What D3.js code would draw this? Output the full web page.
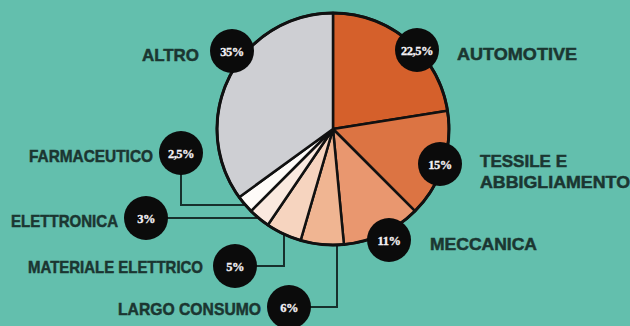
<!DOCTYPE html>
<html>
<head>
<meta charset="utf-8">
<script src="https://cdn.jsdelivr.net/npm/d3@7"></script>
<style>
  html, body { margin: 0; padding: 0; background: #63bfad; }
  svg { display: block; }
</style>
</head>
<body>
<svg id="chart" width="630" height="326"></svg>
<script>
// Sector shares (percent), clockwise from 12 o'clock
const categories = ["AUTOMOTIVE", "TESSILE E\nABBIGLIAMENTO", "MECCANICA", "LARGO CONSUMO",
                    "MATERIALE ELETTRICO", "ELETTRONICA", "FARMACEUTICO", "ALTRO"];
const shares = [22.5, 15, 11, 6, 5, 3, 2.5, 35];
const sliceColors = ["#d5602b", "#dc7443", "#e9976f", "#f0b592", "#f6d4bf", "#fae9df", "#fefbf8", "#cecfd3"];

// Callout layout: badge centre, label anchor point, alignment, set width of each label line,
// optional elbow for the leader line and the direction it takes to reach the rim
const callouts = [
  { badge: [417, 50],  label: [457, 60],  anchor: "start", widths: [120] },
  { badge: [440, 164], label: [480, 167], anchor: "start", widths: [87, 150] },
  { badge: [389, 240], label: [430, 250], anchor: "start", widths: [107] },
  { badge: [289, 307], label: [261, 315], anchor: "end", widths: [143], elbow: [337, 307], toRim: "v" },
  { badge: [235, 266], label: [203, 273], anchor: "end", widths: [175], elbow: [284, 266], toRim: "v" },
  { badge: [146, 218], label: [118, 227], anchor: "end", widths: [107], elbow: [146, 218], toRim: "h" },
  { badge: [181, 153], label: [153, 162], anchor: "end", widths: [124], elbow: [181, 205], toRim: "h" },
  { badge: [232, 51],  label: [199, 61],  anchor: "end", widths: [57] }
];

const W = 630, H = 326;
const cx = 333, cy = 129, R = 116, badgeR = 22;

const it = d3.formatLocale({ decimal: ",", thousands: ".", grouping: [3], currency: ["", "€"] });
const fmt = v => it.format("~")(v) + "%";

const svg = d3.select("#chart");

const data = categories.map((c, i) => ({ name: c, value: shares[i], color: sliceColors[i], co: callouts[i] }));

const pie = d3.pie().value(d => d.value).sort(null);
const arcs = pie(data);
const arc = d3.arc().innerRadius(0).outerRadius(R);

// point where a horizontal or vertical line from the elbow meets the pie rim
function rimPoint(elbow, dir) {
  const [x, y] = elbow;
  if (dir === "h") {
    const dx = Math.sqrt(R * R - (y - cy) * (y - cy));
    return [x < cx ? cx - dx : cx + dx, y];
  }
  const dy = Math.sqrt(R * R - (x - cx) * (x - cx));
  return [x, y < cy ? cy - dy : cy + dy];
}

// leader lines (under the pie)
const leaders = svg.append("g")
  .attr("fill", "none")
  .attr("stroke", "#17302c")
  .attr("stroke-width", 2);

data.filter(d => d.co.elbow).forEach(d => {
  const pts = [d.co.badge, d.co.elbow, rimPoint(d.co.elbow, d.co.toRim)];
  leaders.append("path").attr("d", d3.line()(pts));
});

// pie
const g = svg.append("g").attr("transform", `translate(${cx},${cy})`);
g.selectAll("path.slice")
  .data(arcs)
  .join("path")
  .attr("class", "slice")
  .attr("d", arc)
  .attr("fill", d => d.data.color)
  .attr("stroke", "#111")
  .attr("stroke-width", 2.5)
  .attr("stroke-linejoin", "round");

g.append("circle")
  .attr("r", R)
  .attr("fill", "none")
  .attr("stroke", "#111")
  .attr("stroke-width", 3);

// value badges
const badges = svg.append("g");
data.forEach(d => {
  const [bx, by] = d.co.badge;
  badges.append("circle")
    .attr("cx", bx).attr("cy", by).attr("r", badgeR)
    .attr("fill", "#0b0b0b");
  badges.append("text")
    .attr("x", bx).attr("y", by + 4.5)
    .attr("text-anchor", "middle")
    .attr("fill", "#f4f1f4")
    .attr("stroke", "#f4f1f4")
    .attr("stroke-width", 0.3)
    .attr("font-family", "'Liberation Serif', 'DejaVu Serif', serif")
    .attr("font-weight", "bold")
    .attr("font-size", 12.5)
    .attr("letter-spacing", -0.5)
    .text(fmt(d.value));
});

// category labels
const labels = svg.append("g")
  .attr("fill", "#1b3631")
  .attr("stroke", "#1b3631")
  .attr("stroke-width", 0.5)
  .attr("font-family", "'Liberation Sans', Arial, sans-serif")
  .attr("font-weight", "bold")
  .attr("font-size", 17);

data.forEach(d => {
  const [lx, ly] = d.co.label;
  d.name.split("\n").forEach((line, k) => {
    labels.append("text")
      .attr("x", lx).attr("y", ly + k * 21)
      .attr("text-anchor", d.co.anchor)
      .attr("textLength", d.co.widths[k])
      .attr("lengthAdjust", "spacingAndGlyphs")
      .text(line);
  });
});
</script>
</body>
</html>
